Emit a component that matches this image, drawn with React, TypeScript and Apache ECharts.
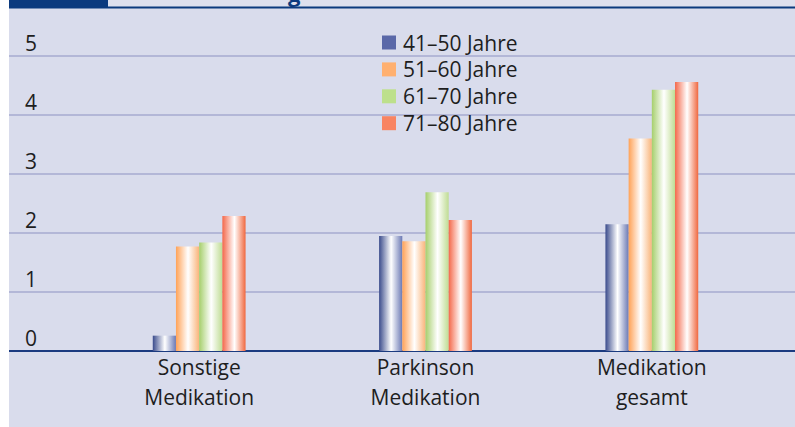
import React, { useEffect, useRef } from "react";
import * as echarts from "echarts";

const categories = ["Sonstige\nMedikation", "Parkinson\nMedikation", "Medikation\ngesamt"];
const seriesNames = ["41–50 Jahre", "51–60 Jahre", "61–70 Jahre", "71–80 Jahre"];
const age41to50 = [0.26, 1.95, 2.15];
const age51to60 = [1.77, 1.86, 3.6];
const age61to70 = [1.84, 2.69, 4.43];
const age71to80 = [2.29, 2.22, 4.56];
const yTicks = [0, 1, 2, 3, 4, 5];

const FONT = "'Open Sans', 'Noto Sans', sans-serif";

const barColors = [
  { left: "#3a4b8c", right: "#6b79b4", legend: "#5a68a8" },
  { left: "#ffa257", right: "#f9b47a", legend: "#ffb070" },
  { left: "#a6cf6c", right: "#bfdc93", legend: "#bde08c" },
  { left: "#f4684a", right: "#f0683f", legend: "#f88462" },
];

function grad(c: { left: string; right: string }) {
  return new echarts.graphic.LinearGradient(0, 0, 1, 0, [
    { offset: 0, color: c.left },
    { offset: 0.52, color: "#ffffff" },
    { offset: 1, color: c.right },
  ]);
}

export default function App() {
  const ref = useRef<HTMLDivElement>(null);
  useEffect(() => {
    if (!ref.current) return;
    const chart = echarts.init(ref.current, null, { renderer: "svg" });
    const values = [age41to50, age51to60, age61to70, age71to80];
    const top = 56;
    const bottom = 76;
    chart.setOption({
      animation: false,
      backgroundColor: "#d9dcec",
      textStyle: { fontFamily: FONT },
      graphic: [
        { type: "rect", shape: { x: 0, y: 0, width: 9, height: 427 }, style: { fill: "#ffffff" }, z: 10 },
        { type: "rect", shape: { x: 9, y: 0, width: 99, height: 7 }, style: { fill: "#0b3a7e" }, z: 10 },
        { type: "rect", shape: { x: 108, y: 0, width: 687, height: 6.5 }, style: { fill: "#dde0ee" }, z: 10 },
        { type: "rect", shape: { x: 9, y: 6.5, width: 786, height: 2 }, style: { fill: "#0b3a7e" }, z: 11 },
        {
          type: "text",
          x: 288,
          y: -18,
          style: { text: "g", fill: "#0b3a7e", font: `bold 22px ${FONT}` },
          z: 10,
        },
      ],
      legend: {
        orient: "vertical",
        left: 377,
        top: 27,
        itemWidth: 14,
        itemHeight: 14,
        itemGap: 5.9,
        icon: "rect",
        textStyle: { fontSize: 21, color: "#1e1e1e", fontFamily: FONT, padding: [0, 0, 0, 2] },
        data: seriesNames.map((n, i) => ({ name: n, itemStyle: { color: barColors[i].legend } })),
      },
      grid: [
        { left: 9, right: 0, top, bottom },
        { left: 86, right: 30, top, bottom },
      ],
      xAxis: [
        {
          type: "value",
          gridIndex: 0,
          min: 0,
          max: 1,
          axisLine: { show: true, lineStyle: { color: "#1b3b80", width: 2 } },
          axisTick: { show: false },
          axisLabel: { show: false },
          splitLine: { show: false },
        },
        {
          type: "category",
          gridIndex: 1,
          data: categories,
          axisLine: { show: false },
          axisTick: { show: false },
          axisLabel: {
            fontSize: 21,
            lineHeight: 30,
            color: "#1e1e1e",
            fontFamily: FONT,
            margin: 1,
          },
        },
      ],
      yAxis: [
        {
          type: "value",
          gridIndex: 0,
          min: 0,
          max: 5,
          interval: 1,
          axisLine: { show: false },
          axisTick: { show: false },
          axisLabel: {
            inside: true,
            margin: 16,
            fontSize: 21,
            color: "#1e1e1e",
            fontFamily: FONT,
            verticalAlign: "bottom",
            padding: [0, 0, 3, 0],
            formatter: (v: number) => (yTicks.includes(v) ? String(v) : ""),
          },
          splitLine: { show: true, lineStyle: { color: "#a6abd0", width: 1.6 } },
        },
        {
          type: "value",
          gridIndex: 1,
          min: 0,
          max: 5,
          interval: 1,
          show: false,
          splitLine: { show: false },
        },
      ],
      series: seriesNames.map((name, i) => ({
        name,
        type: "bar",
        xAxisIndex: 1,
        yAxisIndex: 1,
        data: values[i],
        barGap: "0%",
        barCategoryGap: "59%",
        itemStyle: { color: grad(barColors[i]) },
        z: 3,
      })),
    });
    return () => chart.dispose();
  }, []);
  return <div ref={ref} style={{ position: "fixed", left: 0, top: 0, width: 795, height: 427 }} />;
}
